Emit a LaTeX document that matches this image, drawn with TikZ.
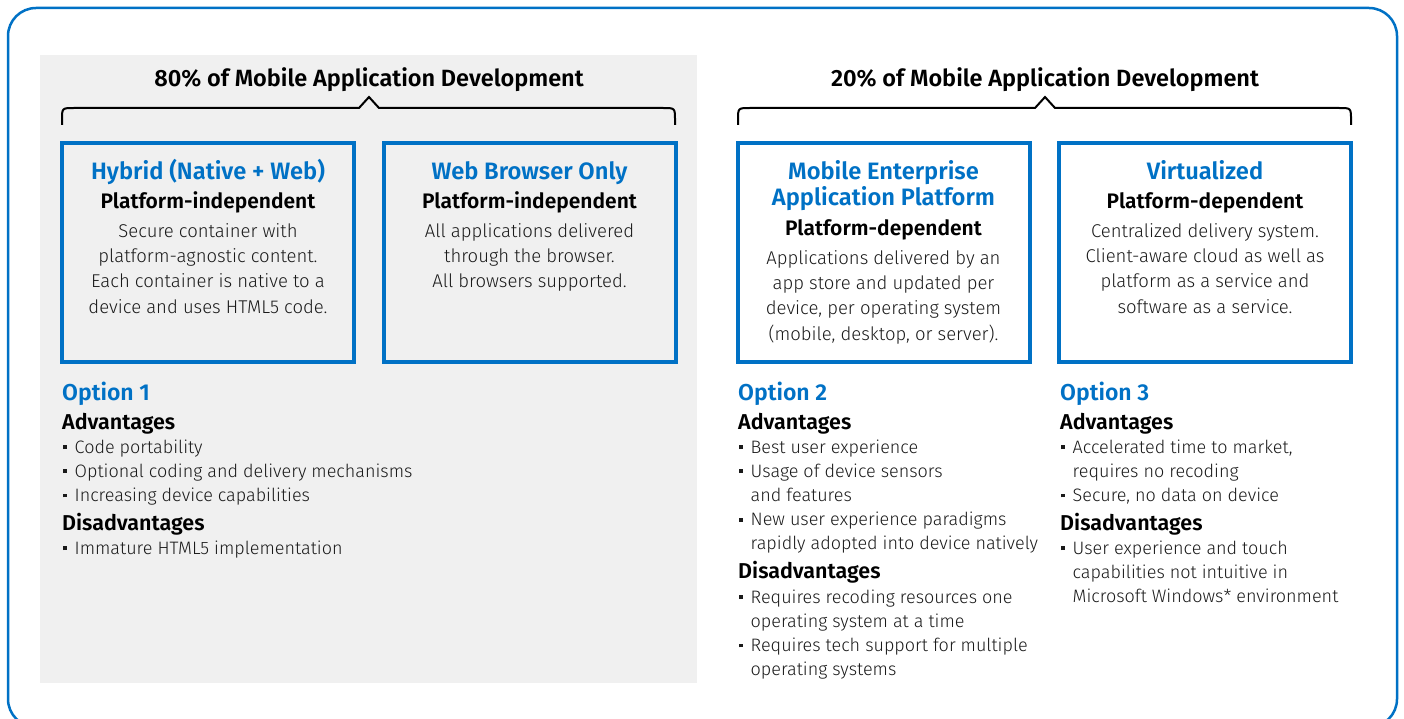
\documentclass[tikz,border=0pt]{standalone}
\usepackage{fontspec}
\setmainfont{Fira Sans}[UprightFont=* Light, BoldFont=* SemiBold]
\definecolor{intelblue}{HTML}{0071C5}
\definecolor{bggray}{HTML}{F0F0F0}
\definecolor{txt}{HTML}{1A1A1A}
\newcommand{\blt}{\makebox[12.5pt][l]{\hspace*{1pt}\rule[0.22em]{3.8pt}{3.8pt}}}
\newcommand{\cind}{\hspace*{12.5pt}}
\tikzset{
  frame/.style={draw=intelblue, line width=3.5pt, minimum width=292pt, minimum height=219pt, anchor=north west, inner sep=0pt, outer sep=0pt},
  boxtitle/.style={font=\fontsize{23.7}{26}\selectfont\bfseries, text=intelblue, align=center, anchor=base, inner sep=0pt},
  boxsub/.style={font=\fontsize{21}{24}\selectfont\bfseries, text=black, anchor=base, inner sep=0pt},
  boxbody/.style={font=\fontsize{18.5}{25.3}\selectfont, text=txt, align=center, anchor=base, inner sep=0pt},
  section/.style={font=\fontsize{23.5}{26}\selectfont\bfseries, text=black, anchor=base, inner sep=0pt},
  opt/.style={font=\fontsize{23}{26}\selectfont\bfseries, text=intelblue, anchor=base west, inner sep=0pt},
  advhead/.style={font=\fontsize{21.5}{24}\selectfont\bfseries, text=black, anchor=base west, inner sep=0pt},
  bullets/.style={font=\fontsize{18}{24.2}\selectfont, text=txt, align=left, anchor=base west, inner sep=0pt},
  bracepath/.style={draw=black, line width=2pt},
  outerframe/.style={draw=intelblue, line width=2.5pt, rounded corners=28pt}
}
\begin{document}
\begin{tikzpicture}[x=1pt,y=-1pt]
\useasboundingbox (0,0) rectangle (1404,719);
\clip (0,0) rectangle (1404,719);
\draw[outerframe] (8,8) rectangle (1397,727);
\fill[bggray] (40,55) rectangle (697,683);

% section headings
\node[section] (h1) at (369,87) {80\% of Mobile Application Development};
\node[section] (h2) at (1045,87) {20\% of Mobile Application Development};

% braces
\draw[bracepath] (62,125) -- (62,120) .. controls (62,108) .. (74,108) -- (359,108) -- (369,97) -- (379,108) -- (663,108) .. controls (675,108) .. (675,120) -- (675,125);
\draw[bracepath] (738,125) -- (738,120) .. controls (738,108) .. (750,108) -- (1035,108) -- (1045,97) -- (1055,108) -- (1339,108) .. controls (1351,108) .. (1351,120) -- (1351,125);

% boxes
\node[frame] (b1) at (62,143) {};
\node[frame] (b2) at (384,143) {};
\node[frame] (b3) at (738,143) {};
\node[frame] (b4) at (1059,143) {};

% box 1 (base anchor = last line baseline)
\node[boxtitle] (t1) at (208,180) {Hybrid (Native + Web)};
\node[boxsub] (s1) at (208,209) {Platform-independent};
\node[boxbody] (d1) at (208,313) {Secure container with\\platform-agnostic content.\\Each container is native to a\\device and uses HTML5 code.};

% box 2
\node[boxtitle] (t2) at (529.5,180) {Web Browser Only};
\node[boxsub] (s2) at (529.5,209) {Platform-independent};
\node[boxbody] (d2) at (529.5,287.6) {All applications delivered\\through the browser.\\All browsers supported.};

% box 3
\node[boxtitle] (t3) at (883.5,206) {Mobile Enterprise\\Application Platform};
\node[boxsub] (s3) at (883.5,236) {Platform-dependent};
\node[boxbody] (d3) at (883.5,340) {Applications delivered by an\\app store and updated per\\device, per operating system\\(mobile, desktop, or server).};

% box 4
\node[boxtitle] (t4) at (1205,180) {Virtualized};
\node[boxsub] (s4) at (1205,209) {Platform-dependent};
\node[boxbody] (d4) at (1205,313) {Centralized delivery system.\\Client-aware cloud as well as\\platform as a service and\\software as a service.};

% option 1
\node[opt] (o1) at (62,400) {Option 1};
\node[advhead] (a1) at (62,429) {Advantages};
\node[bullets] (l1) at (62,501.4) {\blt Code portability\\\blt Optional coding and delivery mechanisms\\\blt Increasing device capabilities};
\node[advhead] (x1) at (62,530) {Disadvantages};
\node[bullets] (m1) at (62,554) {\blt Immature HTML5 implementation};

% option 2
\node[opt] (o2) at (738,400) {Option 2};
\node[advhead] (a2) at (738,429) {Advantages};
\node[bullets] (l2) at (738,549.8) {\blt Best user experience\\\blt Usage of device sensors\\\cind and features\\\blt New user experience paradigms\\\cind rapidly adopted into device natively};
\node[advhead] (x2) at (738,578) {Disadvantages};
\node[bullets] (m2) at (738,675.6) {\blt Requires recoding resources one\\\cind operating system at a time\\\blt Requires tech support for multiple\\\cind operating systems};

% option 3
\node[opt] (o3) at (1060,400) {Option 3};
\node[advhead] (a3) at (1060,429) {Advantages};
\node[bullets] (l3) at (1060,501.4) {\blt Accelerated time to market,\\\cind requires no recoding\\\blt Secure, no data on device};
\node[advhead] (x3) at (1060,530) {Disadvantages};
\node[bullets] (m3) at (1060,602.4) {\blt User experience and touch\\\cind capabilities not intuitive in\\\cind Microsoft Windows* environment};
\end{tikzpicture}
\end{document}
